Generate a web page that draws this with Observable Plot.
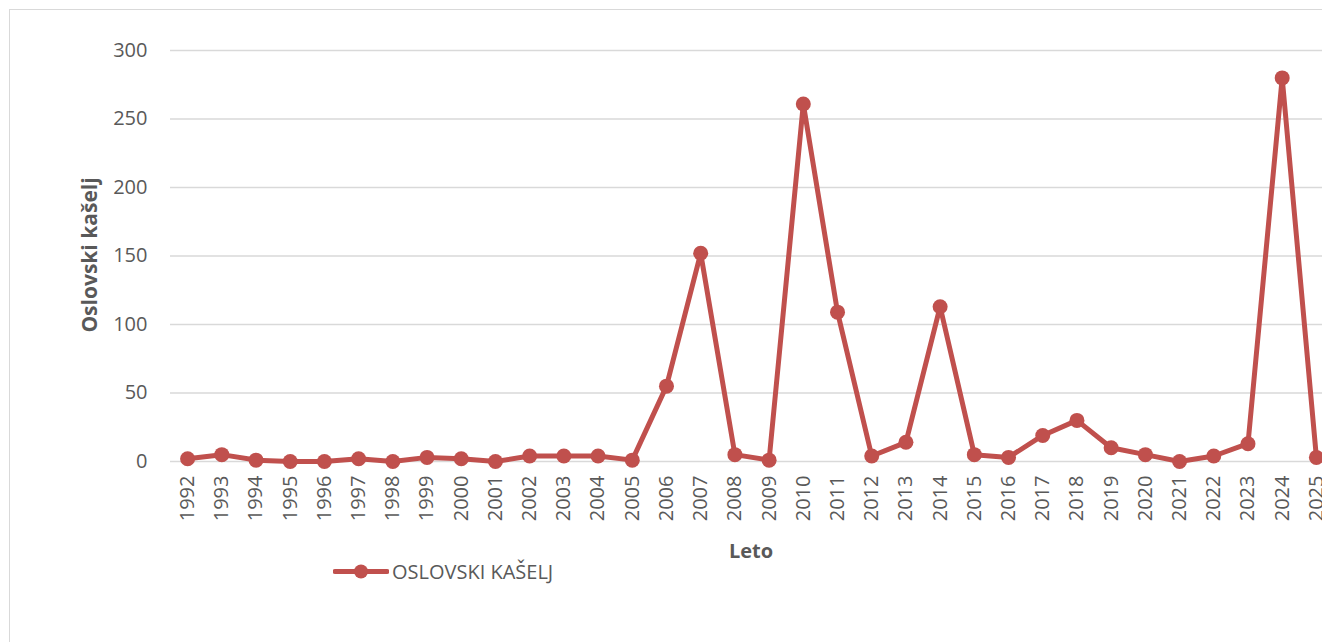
<!DOCTYPE html>
<html>
<head>
<meta charset="utf-8">
<script src="https://cdn.jsdelivr.net/npm/d3@7"></script>
<script src="https://cdn.jsdelivr.net/npm/@observablehq/plot@0.6"></script>
<style>
  html, body { margin: 0; padding: 0; background: #fff; overflow: hidden; }
  #wrap { position: relative; width: 1322px; height: 642px; overflow: hidden; font-family: "Open Sans", sans-serif; color: #595959; }
  #frame { position: absolute; left: 9px; top: 9px; width: 2000px; height: 2000px; border: 1px solid #d9d9d9; box-sizing: border-box; }
  #chart { position: absolute; left: 0; top: 0; }
  #ytitle { position: absolute; left: 89px; top: 255px; transform: translate(-50%, -50%) rotate(-90deg); font-weight: bold; font-size: 21px; white-space: nowrap; }
  #xtitle { position: absolute; left: 751px; top: 550px; transform: translate(-50%, -50%); font-weight: bold; font-size: 20px; }
  #legend { position: absolute; left: 333px; top: 571px; transform: translateY(-50%); display: flex; align-items: center; font-size: 20px; white-space: nowrap; }
  #legend svg { display: block; margin-right: 3px; }
</style>
</head>
<body>
<div id="wrap">
  <div id="frame"></div>
  <div id="chart"></div>
  <div id="ytitle">Oslovski kašelj</div>
  <div id="xtitle">Leto</div>
  <div id="legend"></div>
</div>
<script>
const years = ["1992","1993","1994","1995","1996","1997","1998","1999","2000","2001","2002","2003","2004","2005","2006","2007","2008","2009","2010","2011","2012","2013","2014","2015","2016","2017","2018","2019","2020","2021","2022","2023","2024","2025"];
const cases = [2,5,1,0,0,2,0,3,2,0,4,4,4,1,55,152,5,1,261,109,4,14,113,5,3,19,30,10,5,0,4,13,280,3];
const yTicks = [0,50,100,150,200,250,300];
const seriesName = "OSLOVSKI KAŠELJ";
const color = "#c0504d";

const data = years.map((y, i) => ({year: y, value: cases[i]}));

const plot = Plot.plot({
  width: 1340,
  height: 500,
  marginLeft: 170,
  marginRight: 7,
  marginTop: 50,
  marginBottom: 39,
  style: {fontFamily: "Open Sans, sans-serif", fontSize: "20px", color: "#595959", background: "transparent", overflow: "visible", maxWidth: "none"},
  x: {type: "point", domain: years, padding: 0.5, round: false, label: null},
  y: {domain: [0, 300], label: null},
  marks: [
    Plot.ruleY(yTicks, {stroke: "#d9d9d9", strokeWidth: 1.5}),
    Plot.axisY({ticks: yTicks, tickSize: 0, tickPadding: 23, label: null, fontSize: 20}),
    Plot.axisX({tickSize: 0, tickPadding: 14, tickRotate: -90, label: null, fontSize: 20}),
    Plot.line(data, {x: "year", y: "value", stroke: color, strokeWidth: 5, strokeLinejoin: "round"}),
    Plot.dot(data, {x: "year", y: "value", fill: color, r: 7.5})
  ]
});
document.getElementById("chart").appendChild(plot);

const leg = document.getElementById("legend");
leg.innerHTML = `<svg width="56" height="16"><line x1="2" y1="8" x2="54" y2="8" stroke="${color}" stroke-width="5" stroke-linecap="round"/><circle cx="28" cy="8" r="7" fill="${color}"/></svg><span>${seriesName}</span>`;
</script>
</body>
</html>
